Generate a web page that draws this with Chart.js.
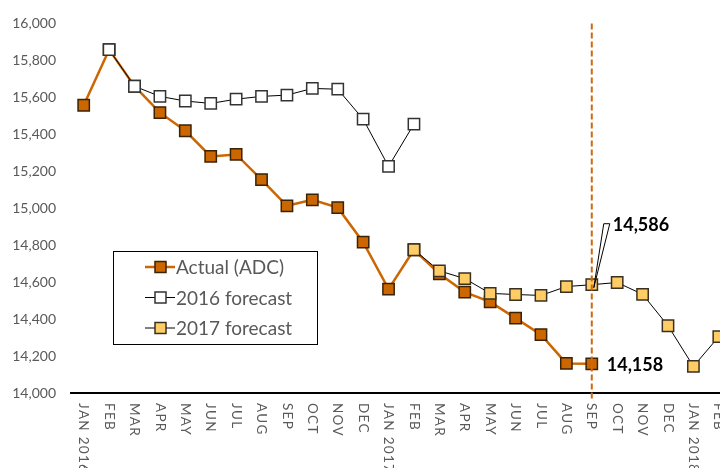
<!DOCTYPE html>
<html>
<head>
<meta charset="utf-8">
<script src="https://cdn.jsdelivr.net/npm/chart.js@4.4.0/dist/chart.umd.min.js"></script>
<style>
  html, body { margin: 0; padding: 0; background: #fff; overflow: hidden; }
  body { width: 720px; height: 468px; }
  #wrap { position: relative; width: 741px; height: 473px; }
</style>
</head>
<body>
<div id="wrap"><canvas id="demandChart" width="741" height="473"></canvas></div>
<script>
// Datos (ADC mensual y pronosticos)
const months = ['JAN 2016', 'FEB', 'MAR', 'APR', 'MAY', 'JUN', 'JUL', 'AUG', 'SEP', 'OCT', 'NOV', 'DEC',
                'JAN 2017', 'FEB', 'MAR', 'APR', 'MAY', 'JUN', 'JUL', 'AUG', 'SEP', 'OCT', 'NOV', 'DEC',
                'JAN 2018', 'FEB'];
const actualADC = [15557, 15858, 15660, 15517, 15419, 15280, 15291, 15155, 15013, 15045, 15003, 14816,
                   14562, 14775, 14645, 14546, 14493, 14405, 14316, 14160, 14158,
                   null, null, null, null, null];
const forecast2016 = [null, 15858, 15660, 15605, 15580, 15567, 15590, 15605, 15612, 15648, 15644, 15482,
                      15226, 15455, null, null, null, null, null, null, null, null, null, null, null, null];
const forecast2017 = [null, null, null, null, null, null, null, null, null, null, null, null, null,
                      14775, 14661, 14619, 14539, 14533, 14528, 14576, 14586, 14598, 14534, 14364, 14144, 14305];
const yTickValues = [14000, 14200, 14400, 14600, 14800, 15000, 15200, 15400, 15600, 15800, 16000];
const cutoffIndex = 20; // SEP 2017

const fmt = v => v.toLocaleString('en-US');
const TEXT_GRAY = '#595959';
const ORANGE = '#CC6600';

const customDraw = {
    id: 'customDraw',
    afterDraw(chart) {
        const ctx = chart.ctx;
        const x = chart.scales.x;
        const y = chart.scales.y;
        const area = chart.chartArea;

        // etiquetas del eje x giradas 90 grados
        ctx.save();
        ctx.font = '13.5px Lato';
        ctx.letterSpacing = '1.3px';
        ctx.fillStyle = TEXT_GRAY;
        ctx.textAlign = 'left';
        ctx.textBaseline = 'middle';
        months.forEach((m, i) => {
            const px = x.getPixelForValue(i);
            ctx.save();
            ctx.translate(px, x.top + 10);
            ctx.rotate(Math.PI / 2);
            ctx.fillText(m, 0, 0);
            ctx.restore();
        });
        ctx.restore();

        // linea vertical punteada
        const cx = x.getPixelForValue(cutoffIndex);
        ctx.save();
        ctx.strokeStyle = '#D06A10';
        ctx.lineWidth = 2;
        ctx.setLineDash([6, 3]);
        ctx.beginPath();
        ctx.moveTo(cx, area.top);
        ctx.lineTo(cx, x.top + 6);
        ctx.stroke();
        ctx.restore();

        // anotaciones
        const fy = y.getPixelForValue(forecast2017[cutoffIndex]);
        const ay = y.getPixelForValue(actualADC[cutoffIndex]);
        ctx.save();
        ctx.fillStyle = '#fff';
        ctx.strokeStyle = '#000';
        ctx.lineWidth = 1;
        ctx.beginPath();
        ctx.moveTo(cx + 2, fy + 3);
        ctx.lineTo(cx + 12, fy - 61);
        ctx.lineTo(cx + 18, fy - 61);
        ctx.closePath();
        ctx.fill();
        ctx.stroke();
        ctx.font = 'bold 18px Lato';
        ctx.fillStyle = '#000';
        ctx.textAlign = 'left';
        ctx.textBaseline = 'middle';
        ctx.fillText(fmt(forecast2017[cutoffIndex]), cx + 21, fy - 60);
        ctx.fillText(fmt(actualADC[cutoffIndex]), cx + 15, ay + 1);
        ctx.restore();

        // leyenda
        const lx = 113, ly = 251, lw = 204, lh = 93;
        ctx.save();
        ctx.fillStyle = '#fff';
        ctx.fillRect(lx, ly, lw, lh);
        ctx.strokeStyle = '#000';
        ctx.lineWidth = 1;
        ctx.strokeRect(lx + 0.5, ly + 0.5, lw, lh);
        ctx.font = '19px Lato';
        ctx.textBaseline = 'middle';
        chart.data.datasets.forEach((ds, i) => {
            const rowY = ly + 16 + i * 30.5;
            ctx.strokeStyle = ds.borderColor;
            ctx.lineWidth = ds.borderWidth;
            ctx.beginPath();
            ctx.moveTo(lx + 32, rowY);
            ctx.lineTo(lx + 62, rowY);
            ctx.stroke();
            ctx.fillStyle = ds.pointBackgroundColor;
            ctx.strokeStyle = ds.pointBorderColor;
            ctx.lineWidth = 1.5;
            ctx.fillRect(lx + 42, rowY - 5.5, 11, 11);
            ctx.strokeRect(lx + 42, rowY - 5.5, 11, 11);
            ctx.fillStyle = TEXT_GRAY;
            ctx.fillText(ds.label, lx + 63, rowY + 1);
        });
        ctx.restore();
    }
};

const ctx = document.getElementById('demandChart').getContext('2d');
const demandChart = new Chart(ctx, {
    type: 'line',
    data: {
        labels: months,
        datasets: [
            {
                label: 'Actual (ADC)',
                data: actualADC,
                borderColor: ORANGE,
                borderWidth: 2.5,
                pointStyle: 'rect',
                pointRadius: 8,
                pointBackgroundColor: ORANGE,
                pointBorderColor: '#3A2205',
                pointBorderWidth: 1.5,
                tension: 0,
                order: 3
            },
            {
                label: '2016 forecast',
                data: forecast2016,
                borderColor: '#000',
                borderWidth: 1,
                pointStyle: 'rect',
                pointRadius: 8,
                pointBackgroundColor: '#fff',
                pointBorderColor: '#333',
                pointBorderWidth: 1.5,
                tension: 0,
                order: 2
            },
            {
                label: '2017 forecast',
                data: forecast2017,
                borderColor: '#000',
                borderWidth: 1,
                pointStyle: 'rect',
                pointRadius: 8,
                pointBackgroundColor: '#FFCC66',
                pointBorderColor: '#3A3020',
                pointBorderWidth: 1.5,
                tension: 0,
                order: 1
            }
        ]
    },
    options: {
        responsive: false,
        animation: false,
        layout: { padding: { top: 18, right: 2, left: 0, bottom: 0 } },
        plugins: {
            legend: { display: false },
            tooltip: { enabled: false },
            title: { display: false }
        },
        scales: {
            x: {
                offset: true,
                grid: { display: false, drawTicks: false },
                border: { display: true, color: '#000', width: 2 },
                ticks: { display: false },
                afterFit: s => { s.height = 80; }
            },
            y: {
                min: 14000,
                max: 16000,
                afterBuildTicks: s => { s.ticks = yTickValues.map(v => ({ value: v })); },
                grid: { display: false, drawTicks: false },
                border: { display: false },
                ticks: {
                    color: TEXT_GRAY,
                    font: { family: 'Lato', size: 14 },
                    padding: 15,
                    callback: v => fmt(v)
                },
                afterFit: s => { s.width = 71; }
            }
        }
    },
    plugins: [customDraw]
});
</script>
</body>
</html>
